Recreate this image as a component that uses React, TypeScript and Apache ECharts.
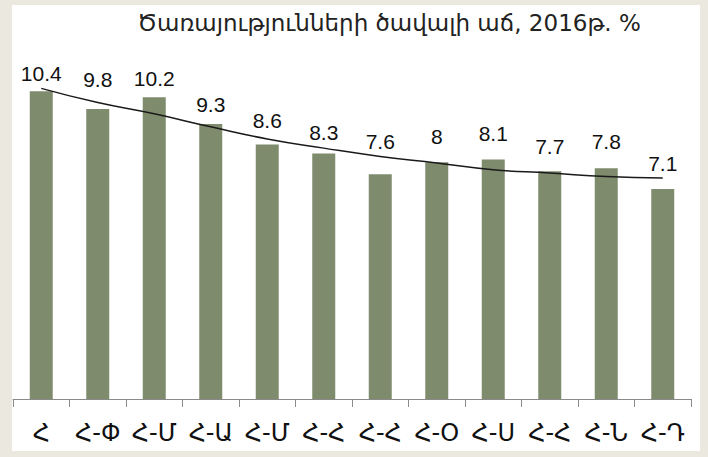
import React, { useEffect, useRef } from "react";
import * as echarts from "echarts";

const titleText = "Ծառայությունների ծավալի աճ, 2016թ. %";
const categories = ["Հ", "Հ-Փ", "Հ-Մ", "Հ-Ա", "Հ-Մ", "Հ-Հ", "Հ-Հ", "Հ-Օ", "Հ-Ս", "Հ-Հ", "Հ-Ն", "Հ-Դ"];
const growth = [10.4, 9.8, 10.2, 9.3, 8.6, 8.3, 7.6, 8, 8.1, 7.7, 7.8, 7.1];
const trend = [10.5, 10.02, 9.64, 9.2, 8.79, 8.48, 8.2, 7.98, 7.75, 7.64, 7.52, 7.47];
// label spacing above each bar (layout only)
const labelGap = [7, 19, 8, 9, 14, 10, 22, 15, 15, 14, 16, 15];

export default function App() {
  const ref = useRef<HTMLDivElement>(null);
  useEffect(() => {
    if (!ref.current) return;
    const chart = echarts.init(ref.current, null, { renderer: "svg" });
    chart.setOption({
      animation: false,
      backgroundColor: "#ebe9df",
      graphic: [
        {
          type: "rect",
          z: 0,
          shape: { x: 12, y: 5, width: 688, height: 446 },
          style: { fill: "#ffffff" },
        },
        {
          type: "text",
          z: 10,
          x: 389,
          y: 23,
          style: {
            text: titleText,
            fill: "#222222",
            font: "23px 'DejaVu Sans'",
            align: "center",
            verticalAlign: "middle",
          },
        },
      ],
      grid: { left: 13, right: 17, top: 44, bottom: 58 },
      xAxis: {
        type: "category",
        data: categories,
        boundaryGap: true,
        axisLine: { show: true, lineStyle: { color: "#8a8a8a", width: 1 } },
        axisTick: { show: true, length: 8, lineStyle: { color: "#8a8a8a" } },
        axisLabel: {
          interval: 0,
          margin: 22,
          color: "#111111",
          fontFamily: "DejaVu Sans",
          fontSize: 24,
        },
      },
      yAxis: {
        type: "value",
        min: 0,
        max: 12,
        show: false,
        splitLine: { show: false },
      },
      series: [
        {
          type: "bar",
          barWidth: 23,
          data: growth.map((v, i) => ({
            value: v,
            label: { distance: labelGap[i] },
          })),
          itemStyle: { color: "#7f8b6d" },
          label: {
            show: true,
            position: "top",
            color: "#111111",
            fontFamily: "Liberation Sans",
            fontSize: 21,
          },
          z: 2,
        },
        {
          type: "line",
          data: trend,
          smooth: true,
          symbol: "none",
          lineStyle: { color: "#1a1a1a", width: 1.5 },
          z: 3,
        },
      ],
    });
    return () => chart.dispose();
  }, []);
  return (
    <div
      ref={ref}
      style={{ position: "fixed", left: 0, top: 0, width: 708, height: 457 }}
    />
  );
}
